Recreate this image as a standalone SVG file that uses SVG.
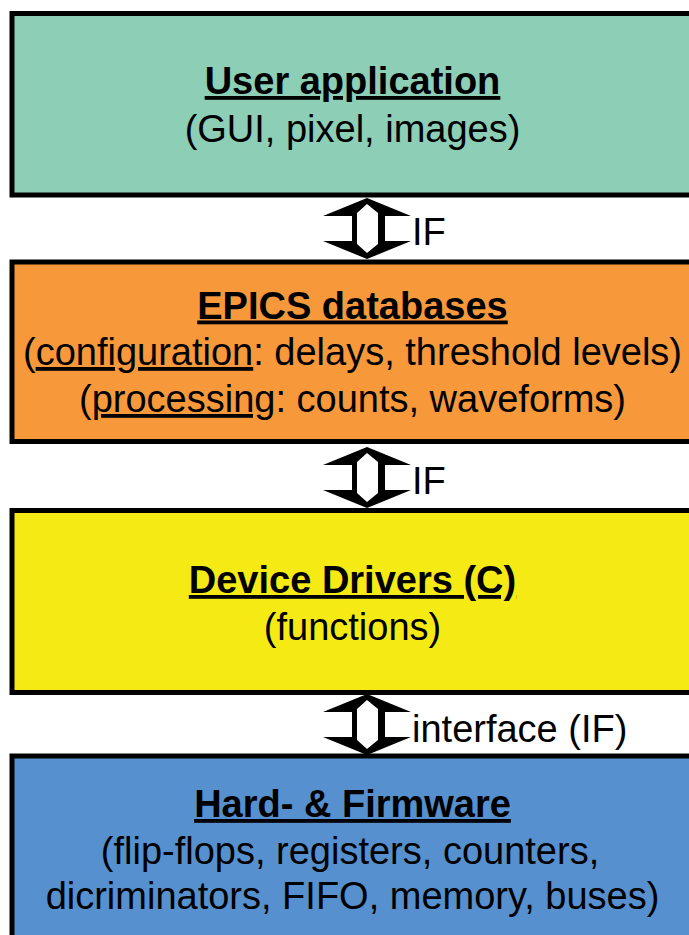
<svg xmlns="http://www.w3.org/2000/svg" width="689" height="935" viewBox="0 0 689 935">
<defs>
<style>
.box{stroke:#000;stroke-width:5}
.t{font-family:"Liberation Sans",Arial,sans-serif;font-size:38px;fill:#000;text-anchor:middle}
.b{font-weight:bold;text-decoration:underline}
.u{text-decoration:underline}
.lbl{font-family:"Liberation Sans",Arial,sans-serif;font-size:38px;fill:#000}
.arr-out{fill:#000}
.arr-in{fill:#fff}
</style>
<g id="dbl-arrow">
<polygon class="arr-out" points="0,0 44,18 18,18 18,43 44,43 0,61 -44,43 -15,43 -15,18 -44,18"/>
<polygon class="arr-in" points="0,6 11,15 11,46 0,55 -10,46 -10,15"/>
</g>
</defs>
<rect width="689" height="935" fill="#fff"/>
<g id="user-application">
<rect class="box" x="12" y="13.5" width="681" height="181.5" fill="#8CCEB6"/>
<text class="t b" x="352.5" y="94">User application</text>
<text class="t" x="352.5" y="142">(GUI, pixel, images)</text>
</g>
<g id="epics-databases">
<rect class="box" x="12" y="262" width="681" height="179.5" fill="#F7983A"/>
<text class="t b" x="352.5" y="318.5">EPICS databases</text>
<text class="t" x="352.5" y="365">(<tspan class="u">configuration</tspan>: delays, threshold levels)</text>
<text class="t" x="352.5" y="412">(<tspan class="u">processing</tspan>: counts, waveforms)</text>
</g>
<g id="device-drivers">
<rect class="box" x="12" y="510.5" width="681" height="182" fill="#F5EA14"/>
<text class="t b" x="352.5" y="593">Device Drivers (C)</text>
<text class="t" x="352.5" y="640">(functions)</text>
</g>
<g id="hard-firmware">
<rect class="box" x="12" y="756" width="681" height="200" fill="#5690CE"/>
<text class="t b" x="352.5" y="817">Hard- &amp; Firmware</text>
<text class="t" x="350" y="864">(flip-flops, registers, counters,</text>
<text class="t" x="352.5" y="909">dicriminators, FIFO, memory, buses)</text>
</g>
<g id="connectors">
<use href="#dbl-arrow" x="367" y="198"/>
<text class="lbl" x="412" y="245">IF</text>
<use href="#dbl-arrow" x="367" y="447"/>
<text class="lbl" x="412" y="494">IF</text>
<use href="#dbl-arrow" x="367" y="694"/>
<text class="lbl" x="412" y="742">interface (IF)</text>
</g>
</svg>
